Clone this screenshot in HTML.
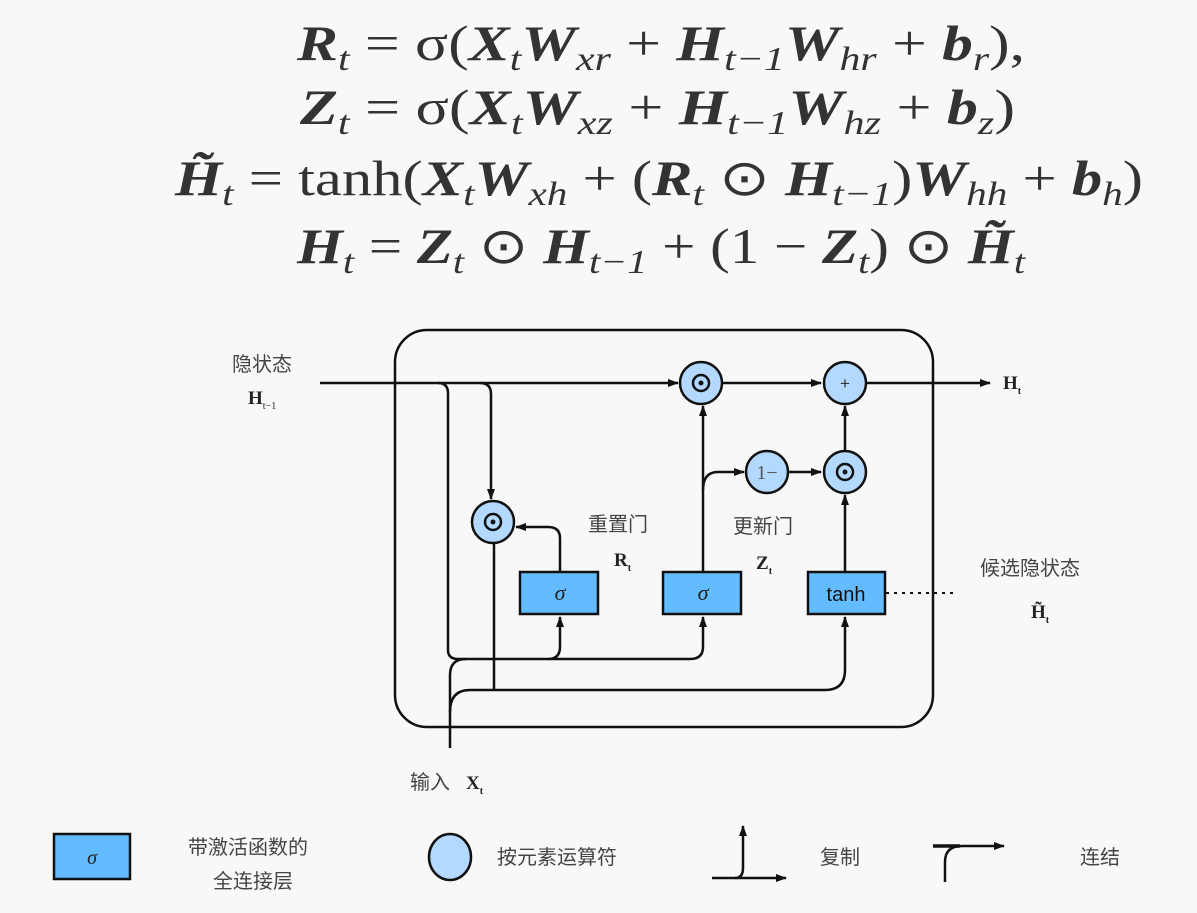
<!DOCTYPE html>
<html><head><meta charset="utf-8"><style>
html,body{margin:0;padding:0;background:#f8f8f8;}
svg{display:block}
.eq{font-family:"Liberation Serif",serif;font-size:50px;fill:#333;font-weight:bold;font-style:italic}
.n{font-style:normal;font-weight:normal}
.sb{font-size:34px;font-weight:normal}
.cn{font-family:"Liberation Sans","Noto Sans CJK SC",sans-serif;font-size:20px;fill:#444}
.bl{font-family:"Liberation Serif",serif;font-weight:bold;font-size:19px;fill:#222}
</style></head><body>
<svg width="1197" height="913" viewBox="0 0 1197 913" xmlns="http://www.w3.org/2000/svg">
<defs>
<marker id="a" markerWidth="11" markerHeight="10" refX="10" refY="5" orient="auto" markerUnits="userSpaceOnUse"><path d="M0,1 L11,5 L0,9 Z" fill="#111"/></marker>
</defs>
<rect width="1197" height="913" fill="#f8f8f8"/>
<text class="eq" x="297" y="60" textLength="728" lengthAdjust="spacingAndGlyphs">R<tspan class="sb" dy="10">t</tspan><tspan class="n" dy="-10"> = σ(</tspan>X<tspan class="sb" dy="10">t</tspan><tspan dy="-10">W</tspan><tspan class="sb" dy="10">xr</tspan><tspan class="n" dy="-10"> + </tspan>H<tspan class="sb" dy="10">t−1</tspan><tspan dy="-10">W</tspan><tspan class="sb" dy="10">hr</tspan><tspan class="n" dy="-10"> + </tspan>b<tspan class="sb" dy="10">r</tspan><tspan class="n" dy="-10">),</tspan></text>
<text class="eq" x="300" y="124" textLength="715" lengthAdjust="spacingAndGlyphs">Z<tspan class="sb" dy="10">t</tspan><tspan class="n" dy="-10"> = σ(</tspan>X<tspan class="sb" dy="10">t</tspan><tspan dy="-10">W</tspan><tspan class="sb" dy="10">xz</tspan><tspan class="n" dy="-10"> + </tspan>H<tspan class="sb" dy="10">t−1</tspan><tspan dy="-10">W</tspan><tspan class="sb" dy="10">hz</tspan><tspan class="n" dy="-10"> + </tspan>b<tspan class="sb" dy="10">z</tspan><tspan class="n" dy="-10">)</tspan></text>
<text class="eq" x="175" y="195" textLength="968" lengthAdjust="spacingAndGlyphs">H̃<tspan class="sb" dy="10">t</tspan><tspan class="n" dy="-10"> = tanh(</tspan>X<tspan class="sb" dy="10">t</tspan><tspan dy="-10">W</tspan><tspan class="sb" dy="10">xh</tspan><tspan class="n" dy="-10"> + (</tspan>R<tspan class="sb" dy="10">t</tspan><tspan class="n" dy="-10"> ⊙ </tspan>H<tspan class="sb" dy="10">t−1</tspan><tspan class="n" dy="-10">)</tspan>W<tspan class="sb" dy="10">hh</tspan><tspan class="n" dy="-10"> + </tspan>b<tspan class="sb" dy="10">h</tspan><tspan class="n" dy="-10">)</tspan></text>
<text class="eq" x="297" y="263" textLength="728" lengthAdjust="spacingAndGlyphs">H<tspan class="sb" dy="10">t</tspan><tspan class="n" dy="-10"> = </tspan>Z<tspan class="sb" dy="10">t</tspan><tspan class="n" dy="-10"> ⊙ </tspan>H<tspan class="sb" dy="10">t−1</tspan><tspan class="n" dy="-10"> + (1 − </tspan>Z<tspan class="sb" dy="10">t</tspan><tspan class="n" dy="-10">) ⊙ </tspan>H̃<tspan class="sb" dy="10">t</tspan></text>

<rect x="395" y="330" width="538" height="397" rx="32" fill="none" stroke="#111" stroke-width="2.5"/>
<g fill="none" stroke="#111" stroke-width="2.5">
<line x1="320" y1="383" x2="678" y2="383" marker-end="url(#a)"/>
<line x1="722" y1="383" x2="821" y2="383" marker-end="url(#a)"/>
<line x1="866" y1="383" x2="990" y2="383" marker-end="url(#a)"/>
<path d="M438,383 Q448,383 448,393 L448,650 Q448,659 458,659 L548,659 Q560,659 560,647 L560,617" marker-end="url(#a)"/>
<path d="M548,659 L690,659 Q703,659 703,647 L703,630"/>
<line x1="703" y1="630" x2="703" y2="617" marker-end="url(#a)"/>
<path d="M480,383 Q491,383 491,394 L491,499" marker-end="url(#a)"/>
<path d="M494,544 L494,690"/>
<path d="M470,690 L825,690 Q845,690 845,670 L845,617" marker-end="url(#a)"/>
<path d="M450,748 L450,675 Q450,659 466,659"/>
<path d="M450,712 Q450,690 470,690"/>
<path d="M560,572 L560,538 Q560,527 548,527 L516,527" marker-end="url(#a)"/>
<line x1="703" y1="572" x2="703" y2="406" marker-end="url(#a)"/>
<path d="M703,490 Q703,472 718,472 L744,472" marker-end="url(#a)"/>
<line x1="789" y1="472" x2="821" y2="472" marker-end="url(#a)"/>
<line x1="845" y1="572" x2="845" y2="495" marker-end="url(#a)"/>
<line x1="845" y1="450" x2="845" y2="406" marker-end="url(#a)"/>
<line x1="886" y1="593" x2="958" y2="593" stroke-dasharray="3,5" stroke-width="2"/>
</g>
<g fill="#b3d9ff" stroke="#111" stroke-width="2.5">
<circle cx="701" cy="383" r="21"/>
<circle cx="845" cy="383" r="21"/>
<circle cx="767" cy="472" r="21"/>
<circle cx="845" cy="472" r="21"/>
<circle cx="493" cy="522" r="21"/>
</g>
<g fill="none" stroke="#111" stroke-width="2.5">
<circle cx="701" cy="383" r="8"/><circle cx="845" cy="472" r="8"/><circle cx="493" cy="522" r="8"/>
</g>
<g fill="#111"><circle cx="701" cy="383" r="2.5"/><circle cx="845" cy="472" r="2.5"/><circle cx="493" cy="522" r="2.5"/></g>
<text x="845" y="389" text-anchor="middle" font-family="Liberation Sans,sans-serif" font-size="17" fill="#333">+</text>
<text x="767" y="479" text-anchor="middle" font-family="Liberation Serif,serif" font-size="20" fill="#555">1−</text>
<g fill="#63bcff" stroke="#111" stroke-width="2.5">
<rect x="520" y="572" width="78" height="42"/>
<rect x="663" y="572" width="78" height="42"/>
<rect x="808" y="572" width="77" height="42"/>
</g>
<g font-family="Liberation Serif,serif" font-style="italic" font-size="22" fill="#222" text-anchor="middle">
<text x="560" y="600">σ</text><text x="703" y="600">σ</text>
</g>
<text x="846" y="601" text-anchor="middle" font-family="Liberation Sans,sans-serif" font-size="20" fill="#111">tanh</text>
<text class="cn" x="232" y="371">隐状态</text>
<text class="bl" x="248" y="404">H<tspan font-size="10" font-weight="normal" dy="5">t−1</tspan></text>
<text class="cn" x="588" y="531">重置门</text>
<text class="bl" x="614" y="566">R<tspan font-size="10" dy="5">t</tspan></text>
<text class="cn" x="733" y="533">更新门</text>
<text class="bl" x="756" y="569">Z<tspan font-size="10" dy="5">t</tspan></text>
<text class="cn" x="980" y="575">候选隐状态</text>
<text class="bl" x="1031" y="618">H̃<tspan font-size="10" dy="5">t</tspan></text>
<text class="bl" x="1003" y="389">H<tspan font-size="10" dy="5">t</tspan></text>
<text class="cn" x="410" y="789">输入</text><text class="bl" x="466" y="789">X<tspan font-size="10" dy="5">t</tspan></text>
<rect x="54" y="834" width="76" height="45" fill="#63bcff" stroke="#111" stroke-width="2.5"/>
<text x="92" y="864" text-anchor="middle" font-family="Liberation Serif,serif" font-style="italic" font-size="20" fill="#222">σ</text>
<text class="cn" x="188" y="854">带激活函数的</text>
<text class="cn" x="213" y="888">全连接层</text>
<ellipse cx="450" cy="857" rx="21" ry="23" fill="#b3d9ff" stroke="#111" stroke-width="2.5"/>
<text class="cn" x="497" y="864">按元素运算符</text>
<g fill="none" stroke="#111" stroke-width="2.5">
<path d="M712,878 L735,878 Q743,878 743,868 L743,826" marker-end="url(#a)"/>
<line x1="735" y1="878" x2="786" y2="878" marker-end="url(#a)"/>
<path d="M945,882 L945,862 Q945,846 962,846 L1004,846" marker-end="url(#a)"/>
<line x1="933" y1="846" x2="960" y2="846" stroke-width="3.5"/>
</g>
<text class="cn" x="820" y="864">复制</text>
<text class="cn" x="1080" y="864">连结</text>
</svg>
</body></html>
